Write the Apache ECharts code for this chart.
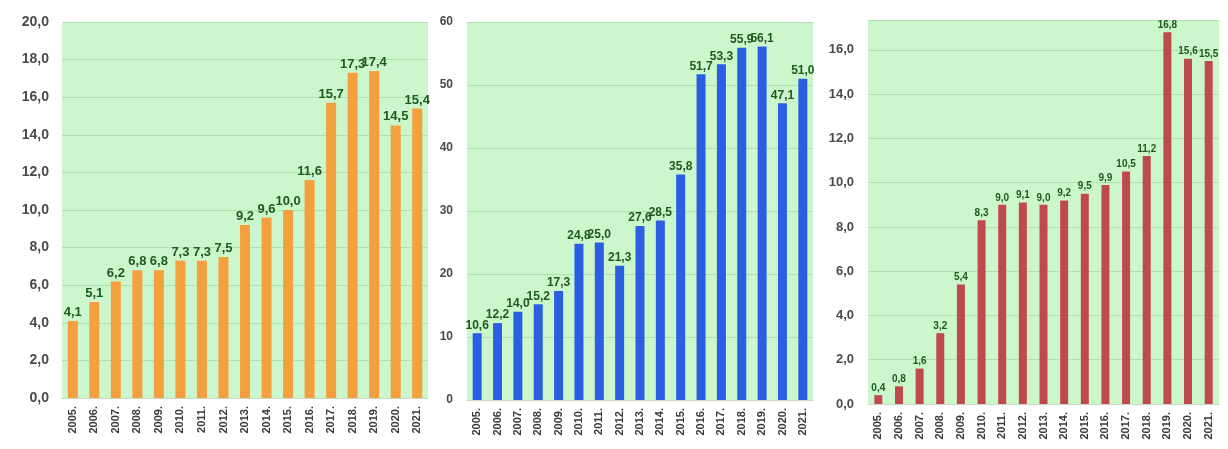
<!DOCTYPE html>
<html>
<head>
<meta charset="utf-8">
<script src="https://cdn.jsdelivr.net/npm/echarts@6/dist/echarts.min.js"></script>
<style>
html,body{margin:0;padding:0;background:#fff;}
#chart{width:1228px;height:449px;}
</style>
</head>
<body>
<div id="chart"></div>
<script>
const years = ['2005.','2006.','2007.','2008.','2009.','2010.','2011.','2012.','2013.','2014.','2015.','2016.','2017.','2018.','2019.','2020.','2021.'];
const valuesA = [4.1,5.1,6.2,6.8,6.8,7.3,7.3,7.5,9.2,9.6,10.0,11.6,15.7,17.3,17.4,14.5,15.4];
const valuesB = [10.6,12.2,14.0,15.2,17.3,24.8,25.0,21.3,27.6,28.5,35.8,51.7,53.3,55.9,56.1,47.1,51.0];
const valuesC = [0.4,0.8,1.6,3.2,5.4,8.3,9.0,9.1,9.0,9.2,9.5,9.9,10.5,11.2,16.8,15.6,15.5];

const fmt1 = v => v.toFixed(1).replace('.', ',');
const labelColor = '#1d5a1d';
const axisTextColor = '#4a4a4a';
const gridBg = '#ccf6cc';
const splitColor = '#b0e0b0';

const grids = [
  {left:62, top:22, width:366, height:376},
  {left:467, top:22, width:346, height:378},
  {left:868, top:20, width:351, height:384}
].map(g => Object.assign(g, {show:true, backgroundColor:gridBg, borderWidth:0, containLabel:false}));

function xAx(i){
  return {
    type:'category', gridIndex:i, data:years,
    axisLine:{show:true, lineStyle:{color:'#c8d8c0'}},
    axisTick:{show:false},
    axisLabel:{rotate:90, fontSize:11, fontWeight:'bold', color:'#3a3a3a', fontFamily:'Liberation Sans', margin:8}
  };
}
const chart = echarts.init(document.getElementById('chart'));
chart.setOption({
  animation:false,
  grid:grids,
  xAxis:[xAx(0), xAx(1), xAx(2)],
  yAxis:[
    {type:'value', gridIndex:0, min:0, max:20, interval:2,
     axisLine:{show:false}, axisTick:{show:false},
     splitLine:{lineStyle:{color:splitColor}},
     axisLabel:{formatter:v=>fmt1(v), fontSize:14, fontWeight:'bold', color:axisTextColor, fontFamily:'Liberation Sans', margin:13}},
    {type:'value', gridIndex:1, min:0, max:60, interval:10,
     axisLine:{show:false}, axisTick:{show:false},
     splitLine:{lineStyle:{color:splitColor}},
     axisLabel:{fontSize:12, fontWeight:'bold', color:axisTextColor, fontFamily:'Liberation Sans', margin:14}},
    {type:'value', gridIndex:2, min:0, max:17.35, interval:2,
     axisLine:{show:false}, axisTick:{show:false},
     splitLine:{lineStyle:{color:splitColor}},
     axisLabel:{formatter:v=>fmt1(v), showMaxLabel:false, fontSize:13, fontWeight:'bold', color:axisTextColor, fontFamily:'Liberation Sans', margin:14}}
  ],
  series:[
    {type:'bar', xAxisIndex:0, yAxisIndex:0, data:valuesA, barWidth:10,
     itemStyle:{color:'#f4a03e'},
     label:{show:true, position:'top', distance:2, formatter:p=>fmt1(p.value), fontSize:13, fontWeight:'bold', color:labelColor, fontFamily:'Liberation Sans'}},
    {type:'bar', xAxisIndex:1, yAxisIndex:1, data:valuesB, barWidth:9,
     itemStyle:{color:'#2a5fe3'},
     label:{show:true, position:'top', distance:2, formatter:p=>fmt1(p.value), fontSize:12, fontWeight:'bold', color:labelColor, fontFamily:'Liberation Sans'}},
    {type:'bar', xAxisIndex:2, yAxisIndex:2, data:valuesC, barWidth:8,
     itemStyle:{color:'#bf4a4c'},
     label:{show:true, position:'top', distance:2, formatter:p=>fmt1(p.value), fontSize:10, fontWeight:'bold', color:labelColor, fontFamily:'Liberation Sans'}}
  ]
});
</script>
</body>
</html>
